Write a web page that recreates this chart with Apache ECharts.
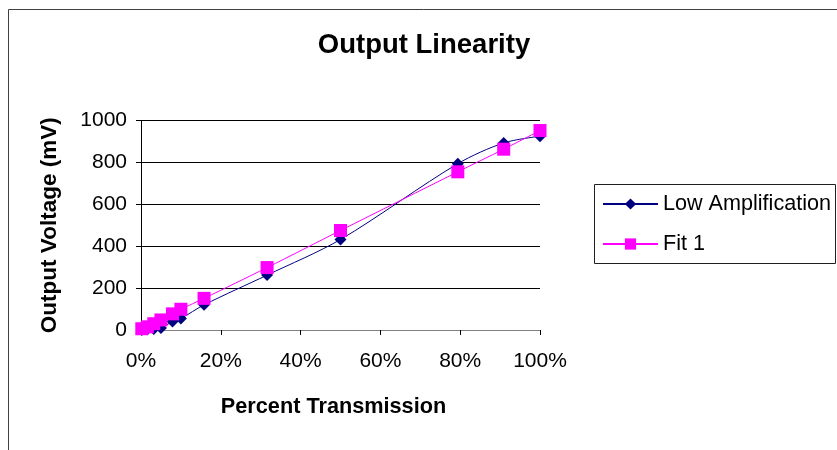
<!DOCTYPE html>
<html>
<head>
<meta charset="utf-8">
<script src="https://cdn.jsdelivr.net/npm/echarts@6/dist/echarts.min.js"></script>
<style>
html,body{margin:0;padding:0;background:#fff;}
#main{width:837px;height:450px;}
</style>
</head>
<body>
<div id="main"></div>
<script>
const titleText = "Output Linearity";
const xAxisName = "Percent Transmission";
const yAxisName = "Output Voltage (mV)";
const seriesNames = ["Low Amplification", "Fit 1"];
const transmission = [0.2, 1.6, 3.2, 5, 7.9, 10, 15.8, 31.6, 50, 79.4, 90.9, 100];
const lowAmplification = [0, 3, 5, 10, 40, 55, 120, 262, 432, 794, 893, 925];
const fit1 = [6, 15, 30, 48, 77, 99, 151, 298, 475, 755, 863, 952];
const xTicks = [0, 20, 40, 60, 80, 100];
const yTicks = [0, 200, 400, 600, 800, 1000];

const FONT = "'Liberation Sans', Arial, sans-serif";
const pairs = (xs, ys) => xs.map((x, i) => [x, ys[i]]);

const chart = echarts.init(document.getElementById('main'), null, {renderer: 'canvas'});
chart.setOption({
  backgroundColor: '#fff',
  animation: false,
  textStyle: {fontFamily: FONT},
  title: {
    text: titleText,
    left: 424,
    top: 31,
    padding: 0,
    textAlign: 'center',
    textStyle: {fontFamily: FONT, fontSize: 27.5, fontWeight: 'bold', color: '#000'}
  },
  graphic: [
    {type: 'rect', shape: {x: 8.5, y: 9.5, width: 900, height: 500},
     style: {fill: 'none', stroke: '#404040', lineWidth: 1}, silent: true, z: -1},
    {type: 'rect', shape: {x: 594.5, y: 184.5, width: 241, height: 79},
     style: {fill: '#fff', stroke: '#202020', lineWidth: 1}, silent: true, z: 0}
  ],
  legend: {
    orient: 'vertical',
    left: 602,
    top: 192,
    padding: 0,
    itemWidth: 55,
    itemHeight: 14,
    itemGap: 16,
    z: 10,
    textStyle: {fontFamily: FONT, fontSize: 21.6, color: '#000', lineHeight: 24},
    data: seriesNames
  },
  grid: {left: 141, top: 120.5, width: 399, height: 209.5, containLabel: false},
  xAxis: {
    type: 'value',
    min: xTicks[0],
    max: xTicks[xTicks.length - 1],
    interval: xTicks[1] - xTicks[0],
    name: xAxisName,
    nameLocation: 'middle',
    nameGap: 66,
    nameTextStyle: {fontFamily: FONT, fontSize: 21.7, fontWeight: 'bold', color: '#000', padding: [0, 14, 0, 0]},
    axisLine: {show: true, onZero: false, lineStyle: {color: '#808080', width: 1}},
    axisTick: {show: true, length: 5, lineStyle: {color: '#000'}},
    axisLabel: {formatter: v => String(v) + '%', fontFamily: FONT, fontSize: 21, color: '#000', margin: 21},
    splitLine: {show: false}
  },
  yAxis: {
    type: 'value',
    min: yTicks[0],
    max: yTicks[yTicks.length - 1],
    interval: yTicks[1] - yTicks[0],
    name: yAxisName,
    nameLocation: 'middle',
    nameRotate: 90,
    nameGap: 80,
    nameTextStyle: {fontFamily: FONT, fontSize: 22.5, fontWeight: 'bold', color: '#000'},
    axisLine: {show: true, lineStyle: {color: '#000', width: 1}},
    axisTick: {show: true, length: 5, lineStyle: {color: '#000'}},
    axisLabel: {formatter: v => String(v), fontFamily: FONT, fontSize: 21, color: '#000', margin: 14},
    splitLine: {show: true, lineStyle: {color: '#000', width: 1}}
  },
  series: [
    {
      name: seriesNames[0],
      type: 'line',
      data: pairs(transmission, lowAmplification),
      smooth: 0.3,
      symbol: 'diamond',
      symbolSize: 12,
      showAllSymbol: true,
      clip: true,
      z: 2,
      lineStyle: {color: '#000080', width: 1},
      itemStyle: {color: '#000080', borderWidth: 0}
    },
    {
      name: seriesNames[1],
      type: 'line',
      data: pairs(transmission, fit1),
      smooth: 0.3,
      symbol: 'rect',
      symbolSize: 13,
      showAllSymbol: true,
      clip: false,
      z: 3,
      lineStyle: {color: '#FF00FF', width: 1},
      itemStyle: {color: '#FF00FF', borderWidth: 0}
    }
  ]
});
</script>
</body>
</html>
